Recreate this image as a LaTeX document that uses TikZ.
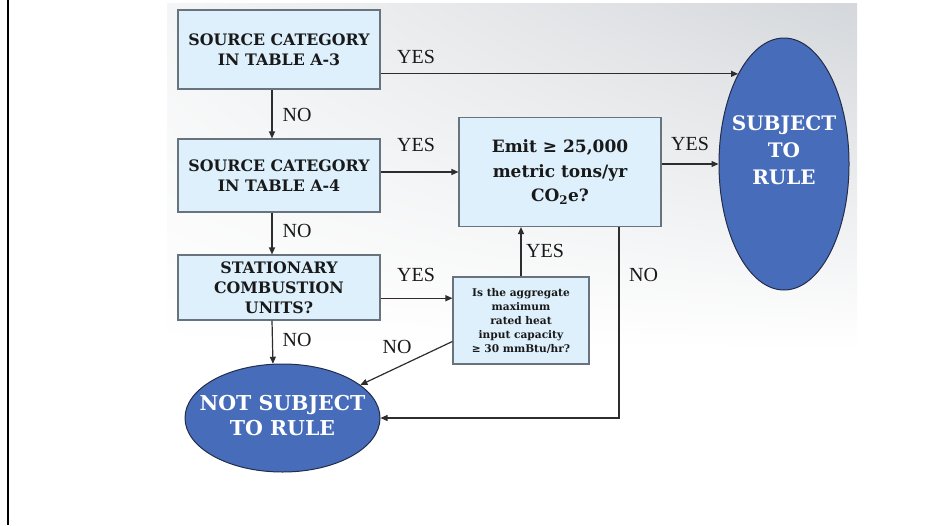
\documentclass[tikz,border=0pt]{standalone}
\usepackage{fontspec}
\setmainfont{Liberation Serif}
\newfontfamily\boxfont{DejaVu Serif}
\usetikzlibrary{positioning,arrows.meta,shapes.geometric,shadings}
\definecolor{boxblue}{RGB}{221,240,252}
\definecolor{boxedge}{RGB}{105,115,125}
\definecolor{ovalblue}{RGB}{70,108,186}
\definecolor{ovaledge}{RGB}{35,45,75}
\definecolor{linkgray}{RGB}{45,45,45}
\definecolor{slidegray}{RGB}{212,215,219}
\definecolor{slidelight}{RGB}{244,245,246}
\definecolor{textdark}{RGB}{25,25,25}

\begin{document}
\begin{tikzpicture}[x=1pt,y=-1pt,
    qbox/.style={draw=boxedge,fill=boxblue,line width=1.1pt,align=center,
                 inner sep=0pt,text=textdark,minimum width=202,
                 font=\boxfont\bfseries\fontsize{15.8}{20}\selectfont},
    oval/.style={ellipse,draw=ovaledge,fill=ovalblue,line width=1pt,inner sep=0pt,
                 text=white,font=\boxfont\bfseries\fontsize{20}{27}\selectfont},
    link/.style={draw=linkgray,line width=1.2pt,-{Triangle[length=7pt,width=6pt]}},
    tag/.style={font=\fontsize{20}{22}\selectfont,text=textdark,inner sep=0pt}]

  % slide background
  \useasboundingbox (0,0) rectangle (952,525);
  \shade[upper left=slidelight,upper right=slidegray,lower left=white,
         lower right=white] (167,3) rectangle (857,350);
  \draw[line width=2.4pt] (8,0) -- (8,525);

  % decision boxes
  \node[qbox,minimum height=79] (srcA3) at (279,49.5) {SOURCE CATEGORY\\IN TABLE A-3};
  \node[qbox,minimum height=73] (srcA4) at (279,175.5) {SOURCE CATEGORY\\IN TABLE A-4};
  \node[qbox,minimum height=65] (statcomb) at (279,287.5) {STATIONARY\\COMBUSTION\\UNITS?};
  \node[qbox,minimum height=109,font=\boxfont\bfseries\fontsize{17}{24.5}\selectfont]
    (emit) at (560,172) {Emit ≥ 25,000\\metric tons/yr\\CO\textsubscript{2}e?};
  \node[qbox,minimum width=136,minimum height=87,font=\boxfont\bfseries\fontsize{10.6}{14}\selectfont]
    (heatcap) at (521,320.5) {Is the aggregate\\maximum\\rated heat\\input capacity\\≥ 30 mmBtu/hr?};

  % outcomes
  \node[oval,minimum width=130,minimum height=252] (subj) at (784,164)
    {\smash{\makebox[0pt]{\begin{tabular}{@{}c@{}}SUBJECT\\TO\\RULE\\[14pt]\end{tabular}}}};
  \node[oval,minimum width=195,minimum height=108,font=\boxfont\bfseries\fontsize{20.5}{25}\selectfont]
    (notsubj) at (282.5,418)
    {\smash{\makebox[0pt]{\raisebox{-5pt}{\begin{tabular}{@{}c@{}}NOT SUBJECT\\TO RULE\end{tabular}}}}};

  % connectors
  \draw[link] (srcA3.east |- subj.117) -- (subj.117);
  \draw[link] ([xshift=-7pt]srcA3.south) -- ([xshift=-7pt]srcA4.north);
  \draw[link] (srcA4.east |- emit.west) -- (emit.west);
  \draw[link] ([xshift=-7pt]srcA4.south) -- ([xshift=-7pt]statcomb.north);
  \draw[link] (statcomb.east |- heatcap.162.5) -- (heatcap.162.5);
  \draw[link] ([xshift=-7pt]statcomb.south) -- (notsubj.100.5);
  \draw[link] (heatcap.197.5) -- (notsubj.23);
  \draw[link] (heatcap.north) -- (heatcap.north |- emit.south);
  \draw[link] (emit.east |- subj.west) -- (subj.west);
  \draw[link] (emit.317.3) |- (notsubj.east);

  % branch labels
  \node[tag] (yesA3) at (416,57) {YES};
  \node[tag] (noA3) at (297,115) {NO};
  \node[tag] (yesA4) at (416,145) {YES};
  \node[tag] (noA4) at (297,231) {NO};
  \node[tag] (yesstat) at (416,274.5) {YES};
  \node[tag] (nostat) at (297,339.5) {NO};
  \node[tag] (noheat) at (397,347) {NO};
  \node[tag] (yesheat) at (545,251) {YES};
  \node[tag] (yesemit) at (690,144) {YES};
  \node[tag] (noemit) at (643.5,274.5) {NO};
\end{tikzpicture}
\end{document}
